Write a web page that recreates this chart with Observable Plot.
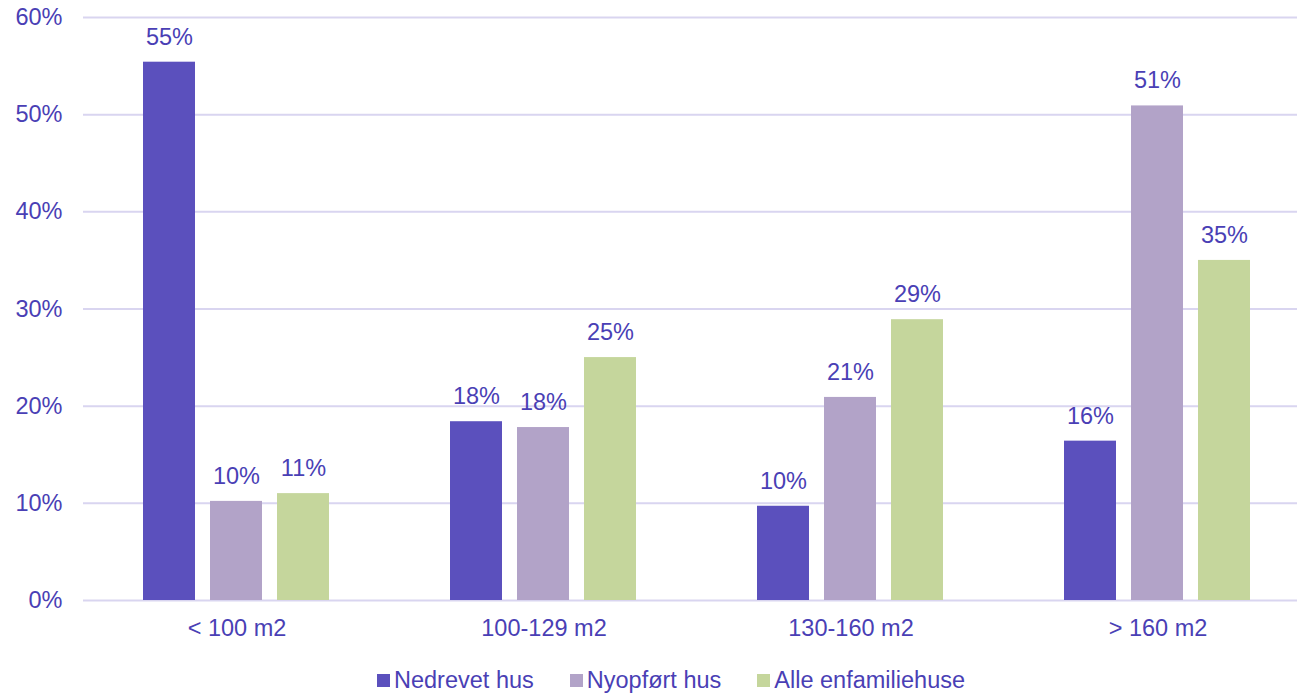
<!DOCTYPE html>
<html>
<head>
<meta charset="utf-8">
<script src="https://cdn.jsdelivr.net/npm/d3@7"></script>
<script src="https://cdn.jsdelivr.net/npm/@observablehq/plot@0.6"></script>
<style>
  html, body { margin: 0; padding: 0; background: #fff; }
  body { font-family: "Liberation Sans", Arial, sans-serif; color: #4a3fb5; width: 1297px; overflow: hidden; }
  #legend { display: flex; align-items: center; height: 58px; padding-left: 377px; font-size: 23.5px; }
  #legend .item { display: flex; align-items: center; margin-right: 36px; }
  #legend .sw { width: 13px; height: 13px; margin-right: 4px; }
</style>
</head>
<body>
<div id="chart"></div>
<div id="legend"></div>
<script>
const categories = ["< 100 m2", "100-129 m2", "130-160 m2", "> 160 m2"];
const series = ["Nedrevet hus", "Nyopført hus", "Alle enfamiliehuse"];
const nedrevet = [55.4, 18.4, 9.7, 16.4];
const nyopfoert = [10.2, 17.8, 20.9, 50.9];
const alle = [11.0, 25.0, 28.9, 35.0];
const yTicks = [0, 10, 20, 30, 40, 50, 60];
const colors = ["#5b50bd", "#b2a3c8", "#c5d69c"];

const valuesBySeries = [nedrevet, nyopfoert, alle];
const data = [];
categories.forEach((c, i) => {
  series.forEach((s, j) => {
    data.push({category: c, series: s, value: valuesBySeries[j][i]});
  });
});

const textColor = "#4a3fb5";
const grid = "#d9d5f0";
const fs = 23.5;

const chart = Plot.plot({
  width: 1297,
  height: 651,
  marginLeft: 82,
  marginRight: -15,
  marginTop: 17,
  marginBottom: 51,
  style: {fontFamily: "'Liberation Sans', Arial, sans-serif", fontSize: fs + "px", color: textColor, background: "#fff", overflow: "visible"},
  fx: {domain: categories, padding: 0, label: null, axis: "bottom", tickSize: 0, tickPadding: 19},
  x: {domain: series, paddingInner: 0.2206, paddingOuter: 0.8695, axis: null},
  y: {domain: [0, 60], ticks: yTicks, tickFormat: d => d + "%", label: null, tickSize: 0, tickPadding: 21},
  color: {domain: series, range: colors},
  facet: {data, x: "category", label: null},
  marks: [
    Plot.ruleY(yTicks, {stroke: grid, strokeWidth: 2}),
    Plot.barY(data, {x: "series", y: "value", fill: "series"}),
    Plot.text(data, {x: "series", y: "value", text: d => Math.round(d.value) + "%", dy: -25, fill: textColor, fontSize: fs})
  ]
});

chart.querySelectorAll("g[aria-label$='axis'], g[aria-label$='tick label']").forEach(g => { g.setAttribute("font-size", fs); g.setAttribute("fill", textColor); });
document.getElementById("chart").appendChild(chart);

const legend = document.getElementById("legend");
series.forEach((s, i) => {
  const item = document.createElement("div");
  item.className = "item";
  const sw = document.createElement("div");
  sw.className = "sw";
  sw.style.background = colors[i];
  const lab = document.createElement("span");
  lab.textContent = s;
  item.appendChild(sw);
  item.appendChild(lab);
  legend.appendChild(item);
});
</script>
</body>
</html>
